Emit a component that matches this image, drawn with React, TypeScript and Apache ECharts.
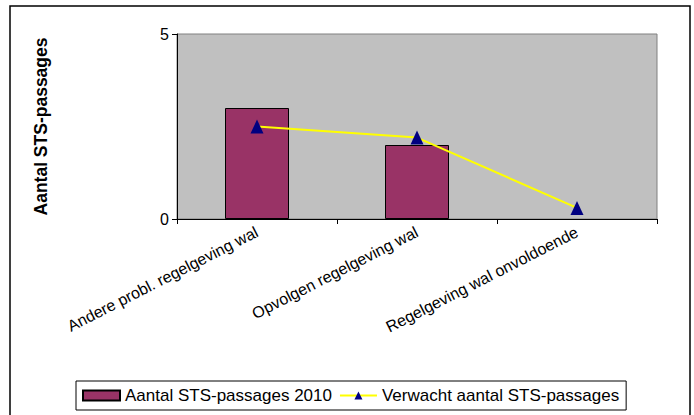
import React, { useEffect, useRef } from "react";
import * as echarts from "echarts";

const categories = [
  "Andere probl. regelgeving wal",
  "Opvolgen regelgeving wal",
  "Regelgeving wal onvoldoende",
];
const actual2010 = [3, 2, null];
const expected = [2.5, 2.2, 0.3];
const yTicks = { min: 0, max: 5, interval: 5 };
const seriesNames = ["Aantal STS-passages 2010", "Verwacht aantal STS-passages"];
const yAxisTitle = "Aantal STS-passages";

const FONT = "Arial, 'Liberation Sans', sans-serif";

export default function App() {
  const ref = useRef<HTMLDivElement>(null);
  useEffect(() => {
    document.body.style.margin = "0";
    const chart = echarts.init(ref.current!, undefined, { renderer: "svg" });
    chart.setOption({
      animation: false,
      backgroundColor: "#ffffff",
      textStyle: { fontFamily: FONT },
      graphic: [
        {
          type: "rect",
          shape: { x: 10, y: 6, width: 680, height: 420 },
          style: { fill: "none", stroke: "#000", lineWidth: 1.5 },
          silent: true,
          z: -1,
        },
      ],
      grid: {
        left: 177,
        right: 37,
        top: 34,
        bottom: 196,
        show: true,
        backgroundColor: "#C0C0C0",
        borderColor: "#808080",
        borderWidth: 1,
      },
      legend: {
        left: 76,
        top: 381,
        orient: "horizontal",
        borderColor: "#000",
        borderWidth: 1,
        padding: [6, 7, 6, 6],
        itemGap: 7,
        itemWidth: 37,
        itemHeight: 10,
        textStyle: { fontSize: 17, color: "#000", fontFamily: FONT },
        data: [
          { name: seriesNames[0], icon: "rect" },
          { name: seriesNames[1] },
        ],
      },
      xAxis: {
        type: "category",
        data: categories,
        boundaryGap: true,
        axisLine: { show: true, lineStyle: { color: "#000", width: 1 } },
        axisTick: { show: true, length: 5, lineStyle: { color: "#000" } },
        axisLabel: {
          interval: 0,
          rotate: 27,
          fontSize: 16,
          color: "#000",
          margin: 12,
          fontFamily: FONT,
        },
        splitLine: { show: false },
      },
      yAxis: {
        type: "value",
        min: yTicks.min,
        max: yTicks.max,
        interval: yTicks.interval,
        name: yAxisTitle,
        nameLocation: "middle",
        nameGap: 127,
        nameRotate: 90,
        nameTextStyle: { fontSize: 17.5, fontWeight: "bold", color: "#000", fontFamily: FONT },
        axisLine: { show: true, lineStyle: { color: "#000", width: 1 } },
        axisTick: { show: true, length: 5, lineStyle: { color: "#000" } },
        axisLabel: { fontSize: 16, color: "#000", margin: 8, fontFamily: FONT },
        splitLine: { show: false },
      },
      series: [
        {
          name: seriesNames[0],
          type: "bar",
          data: actual2010,
          barWidth: "40%",
          itemStyle: { color: "#993366", borderColor: "#000", borderWidth: 1 },
        },
        {
          name: seriesNames[1],
          type: "line",
          data: expected,
          symbol: "triangle",
          symbolSize: [13, 14],
          lineStyle: { color: "#FFFF00", width: 2 },
          itemStyle: { color: "#000080" },
          z: 3,
        },
      ],
    });
    return () => chart.dispose();
  }, []);
  return <div ref={ref} style={{ width: 694, height: 415 }} />;
}
